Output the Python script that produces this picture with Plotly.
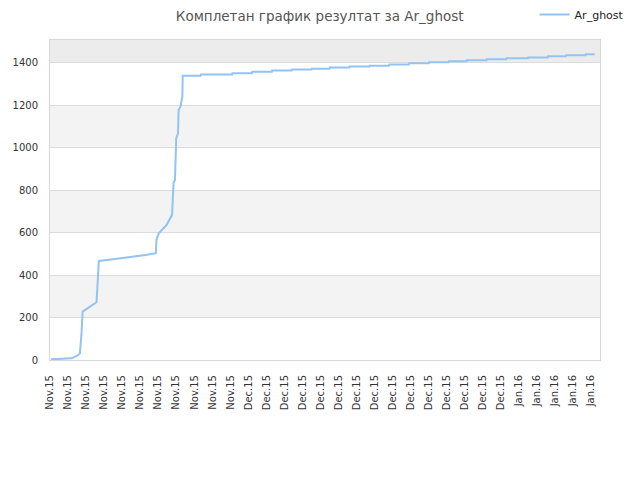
import plotly.graph_objects as go

# x-axis tick labels (one per category position)
tick_labels = (["Nov.15"] * 11) + (["Dec.15"] * 15) + (["Jan.16"] * 5)

# cumulative score (x in tick-position units)
score_x = [0.05, 1.2, 1.5, 1.66, 1.75, 1.81, 2.58, 2.65, 2.71, 3.5, 4.5, 5.3, 5.87,
           5.9, 6.03, 6.46, 6.77, 6.8, 6.85, 6.93, 6.97, 7.0, 7.1, 7.13, 7.23, 7.34,
           7.36, 8.35, 8.37, 10.1, 10.12, 11.2, 11.22, 12.3, 12.32, 13.4, 13.42,
           14.5, 14.52, 15.5, 15.52, 16.6, 16.62, 17.7, 17.72, 18.8, 18.82, 19.9,
           19.92, 21.0, 21.02, 22.1, 22.12, 23.1, 23.12, 24.2, 24.22, 25.3, 25.32,
           26.5, 26.52, 27.6, 27.62, 28.6, 28.62, 29.7, 29.72, 30.2]
score_y = [3, 8, 20, 31, 130, 228, 272, 370, 467, 475, 485, 495, 503,
           566, 597, 636, 684, 754, 833, 849, 927, 1045, 1068, 1178, 1194, 1241,
           1340, 1340, 1345, 1345, 1351, 1351, 1358, 1358, 1364, 1364, 1369,
           1369, 1373, 1373, 1378, 1378, 1383, 1383, 1387, 1387, 1392, 1392,
           1398, 1398, 1403, 1403, 1408, 1408, 1412, 1412, 1417, 1417, 1422,
           1422, 1426, 1426, 1431, 1431, 1436, 1436, 1441, 1441]

fig = go.Figure()
fig.add_trace(go.Scatter(x=score_x, y=score_y, mode="lines", name="Ar_ghost",
                         line=dict(color="#92c3f3", width=2)))

# alternating background bands
for y0, y1, col in [(200, 400, "#f3f3f3"), (600, 800, "#f3f3f3"),
                    (1000, 1200, "#f3f3f3"), (1400, 1508, "#ececec")]:
    fig.add_shape(type="rect", xref="paper", yref="y", x0=0, x1=1, y0=y0, y1=y1,
                  fillcolor=col, line_width=0, layer="below")

fig.update_xaxes(range=[0, 30.5], tickvals=list(range(len(tick_labels))),
                 ticktext=tick_labels, tickangle=-90, showgrid=False, zeroline=False,
                 showline=True, linecolor="#d8d8d8", mirror=True, ticks="",
                 ticklabelstandoff=10,
                 tickfont=dict(size=10, color="#333", family="DejaVu Sans"))
fig.update_yaxes(range=[0, 1508], tickvals=[0, 200, 400, 600, 800, 1000, 1200, 1400],
                 showgrid=True, gridcolor="#dcdcdc", zeroline=False,
                 showline=True, linecolor="#d8d8d8", mirror=True, ticks="",
                 ticklabelstandoff=9,
                 tickfont=dict(size=10, color="#333", family="DejaVu Sans"))

fig.update_layout(
    width=640, height=480,
    margin=dict(l=42, r=48, t=32, b=128, autoexpand=False),
    paper_bgcolor="white", plot_bgcolor="white",
    title=dict(text="Комплетан график резултат за Ar_ghost", x=0.487, xanchor="center",
               y=0.992, yanchor="top", pad=dict(t=0),
               font=dict(size=13.5, color="#555", family="DejaVu Sans")),
    showlegend=True,
    legend=dict(x=1.052, xanchor="right", y=1.08, yanchor="middle",
                font=dict(size=11, color="#222", family="DejaVu Sans"),
                bgcolor="rgba(0,0,0,0)"),
)

fig.write_html("out.html")
